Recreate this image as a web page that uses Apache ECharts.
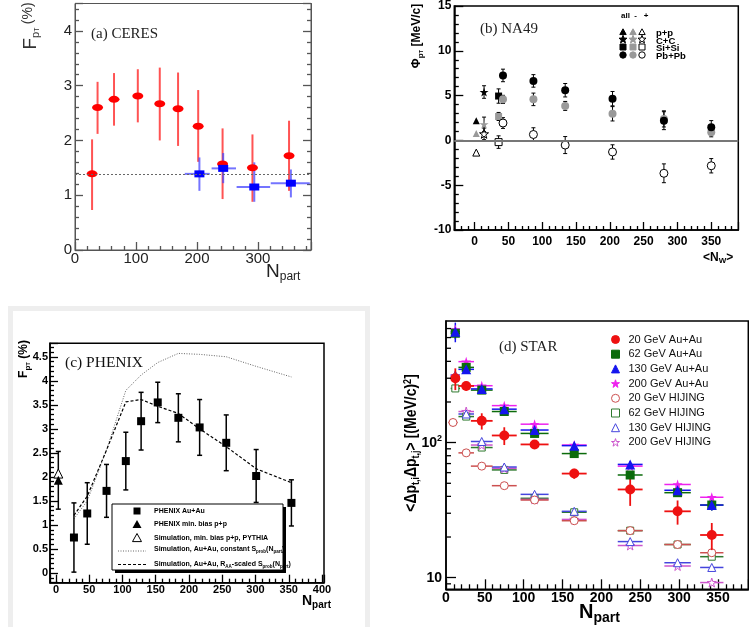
<!DOCTYPE html>
<html>
<head>
<meta charset="utf-8">
<script src="https://cdn.jsdelivr.net/npm/echarts@6.0.0/dist/echarts.min.js"></script>
<style>
html,body{margin:0;padding:0;background:#ffffff;}
#chart{width:749px;height:627px;}
</style>
</head>
<body>
<div id="chart"></div>
<script>
// ================= DATA =================
// (a) CERES
const ceresX    = [28, 37, 64, 103, 139, 169, 202, 242, 291, 351];
const ceresY    = [1.39, 2.60, 2.75, 2.81, 2.67, 2.58, 2.26, 1.57, 1.50, 1.72];
const ceresYHi  = [2.02, 3.07, 3.23, 3.30, 3.33, 3.24, 2.92, 2.22, 2.11, 2.36];
const ceresYLo  = [0.73, 2.12, 2.27, 2.33, 2.00, 1.90, 1.61, 0.93, 0.88, 1.08];
const ceresBlueX   = [204, 243, 294, 354];
const ceresBlueY   = [1.39, 1.49, 1.15, 1.22];
const ceresBlueXLo = [180, 224, 265, 321];
const ceresBlueXHi = [221, 264, 320, 385];
const ceresBlueYHi = [1.69, 1.77, 1.60, 1.47];
const ceresBlueYLo = [1.08, 1.22, 0.88, 0.96];
const ceresRefLevel = 1.39;

// (b) NA49 : light systems p+p, C+C, Si+Si ; Pb+Pb centrality bins
const na49Systems   = ['p+p', 'C+C', 'Si+Si', 'Pb+Pb'];
const na49LightX    = [2.5, 14, 35.5];
const na49LightAll  = [2.2, 5.4, 4.95];
const na49LightAllE = [0, 0.7, 0.8];
const na49LightNeg  = [0.77, 1.8, 2.67];
const na49LightNegE = [0, 0.8, 0.45];
const na49LightPos  = [-1.36, 0.73, -0.19];
const na49LightPosE = [0, 0.65, 0.7];
const na49PbX    = [42, 87, 134, 204, 280, 350];
const na49PbAll  = [7.25, 6.64, 5.6, 4.66, 2.2, 1.46];
const na49PbAllE = [0.7, 0.7, 0.75, 0.8, 1.0, 0.75];
const na49PbNeg  = [4.58, 4.58, 3.85, 2.97, 2.4, 0.9];
const na49PbNegE = [0.45, 0.7, 0.5, 0.8, 0.9, 0.5];
const na49PbPos  = [1.94, 0.66, -0.52, -1.29, -3.67, -2.83];
const na49PbPosE = [0.6, 0.75, 0.95, 0.8, 1.05, 0.8];
const na49ZeroLevel = 0;

// (c) PHENIX
const phenixX   = [27, 47, 76, 105, 128, 153, 184, 216, 256, 301, 354];
const phenixY   = [0.74, 1.24, 1.71, 2.33, 3.16, 3.55, 3.23, 3.03, 2.71, 2.02, 1.46];
const phenixErr = [0.72, 0.64, 0.55, 0.60, 0.60, 0.42, 0.50, 0.58, 0.58, 0.55, 0.48];
const phenixPPX = [3.5];
const phenixPP  = [1.93];
const phenixPPErr = [0.6];
const pythiaPP  = [2.07];
const simConstS = [1.13, 1.50, 2.56, 3.80, 4.12, 4.38, 4.57, 4.55, 4.50, 4.30, 4.08];
const simRaaS   = [1.20, 1.60, 2.56, 3.56, 3.61, 3.47, 3.32, 3.00, 2.63, 2.17, 1.88];
const phenixLegend = ['PHENIX Au+Au', 'PHENIX min. bias p+p', 'Simulation, min. bias p+p, PYTHIA'];

// (d) STAR
const starX     = [12, 26, 46, 75, 114, 165, 237, 298, 342];
const starXErr  = [6, 10, 14, 16, 18, 16, 16, 17, 15];
const au20      = [300, 263, 145, 113, 97, 59, 45, 31, 20.7];
const au20Err   = [55, 20, 20, 17, 5, 5, 11, 6.3, 4.7];
const au62      = [646, 361, 245, 170, 117, 83, 57.6, 42.6, 34.5];
const au62Err   = [60, 20, 12, 10, 6, 5, 4, 3, 3];
const au130     = [664, 349, 250, 177, 124, 95, 69, 44.4, 34.5];
const au130Err  = [110, 20, 12, 10, 6, 5, 4, 3, 3];
const au200     = [690, 398, 264, 188, 137, 96, 67, 49, 39.4];
const hijX20    = [9, 26, 46, 75, 114, 165, 237, 298, 342];
const hij20     = [141, 84, 67, 48, 37.6, 26.4, 22.3, 17.6, 15.3];
const hij62     = [252, 156, 92, 62.8, 38.7, 30.5, 22.3, 17.6, 14.3];
const hij130    = [317, 163, 102, 66, 41.4, 31, 18.5, 12.9, 11.9];
const hij200    = [310, 170, 96, 64.6, 38, 27, 17.3, 12.2, 9.2];
const starNames = ['20 GeV Au+Au', '62 GeV Au+Au', '130 GeV Au+Au', '200 GeV Au+Au',
                   '20 GeV HIJING', '62 GeV HIJING', '130 GeV HIJING', '200 GeV HIJING'];
const starMinorTicks = [9, 20, 30, 40, 50, 60, 70, 80, 90, 200, 300, 400, 500, 600, 700];

// ================= HELPERS =================
const SANS = '"Liberation Sans", Arial, Helvetica, sans-serif';
const SERIF = '"Liberation Serif", "Times New Roman", serif';
const STAR = 'path://M50,2 L61.2,36.3 L97.6,36.3 L68.2,57.5 L79.4,92 L50,70.8 L20.6,92 L31.8,57.5 L2.4,36.3 L38.8,36.3 Z';

function pts(xs, ys) { return xs.map((x, i) => [x, ys[i]]); }

function scatter(name, gi, data, symbol, size, fill, stroke, z) {
  return {
    name: name, type: 'scatter', xAxisIndex: gi, yAxisIndex: gi, data: data,
    symbol: symbol, symbolSize: size, silent: true, z: z || 4,
    itemStyle: { color: fill, borderColor: stroke || fill, borderWidth: stroke ? 1 : 0, opacity: 1 },
    emphasis: { disabled: true }
  };
}

// rows: [x, y, ylo, yhi, xlo, xhi]
function errBars(gi, rows, color, width, cap, z) {
  return {
    type: 'custom', xAxisIndex: gi, yAxisIndex: gi, data: rows, silent: true, z: z || 2,
    renderItem: function (params, api) {
      const x = api.value(0), y = api.value(1), lo = api.value(2), hi = api.value(3);
      const xl = api.value(4), xh = api.value(5);
      const ch = [];
      const st = { stroke: color, lineWidth: width };
      if (hi !== lo) {
        const a = api.coord([x, lo]), b = api.coord([x, hi]);
        ch.push({ type: 'line', shape: { x1: a[0], y1: a[1], x2: b[0], y2: b[1] }, style: st });
        if (cap) {
          ch.push({ type: 'line', shape: { x1: a[0] - cap, y1: a[1], x2: a[0] + cap, y2: a[1] }, style: st });
          ch.push({ type: 'line', shape: { x1: b[0] - cap, y1: b[1], x2: b[0] + cap, y2: b[1] }, style: st });
        }
      }
      if (xl !== xh) {
        const c = api.coord([xl, y]), d = api.coord([xh, y]);
        ch.push({ type: 'line', shape: { x1: c[0], y1: c[1], x2: d[0], y2: d[1] }, style: st });
      }
      return { type: 'group', children: ch };
    }
  };
}

function vRows(xs, ys, lo, hi) { return xs.map((x, i) => [x, ys[i], lo[i], hi[i], x, x]); }
function symRows(xs, ys, e) { return xs.map((x, i) => [x, ys[i], ys[i] - e[i], ys[i] + e[i], x, x]); }
function xyRows(xs, ys, e, xe) { return xs.map((x, i) => [x, ys[i], ys[i] - e[i], ys[i] + e[i], x - xe[i], x + xe[i]]); }
function hRows(xs, ys, xe) { return xs.map((x, i) => [x, ys[i], ys[i], ys[i], x - xe[i], x + xe[i]]); }

function valAxis(o) {
  const col = o.color || '#000';
  const tw = o.tickW || 1.3;
  const ax = {
    type: o.type || 'value', gridIndex: o.grid,
    min: o.min, max: o.max,
    axisLine: { show: true, onZero: false, lineStyle: { color: col, width: o.lw || 1 } },
    axisTick: { show: true, inside: true, length: o.tick || 8, lineStyle: { color: col, width: tw } },
    minorTick: { show: o.minor !== false, splitNumber: o.minorSplit || 5, length: (o.tick || 8) / 2, lineStyle: { color: col, width: tw } },
    splitLine: { show: false }, minorSplitLine: { show: false },
    axisLabel: Object.assign({
      show: o.labels !== false, color: o.labelColor || '#000', fontFamily: SANS,
      fontSize: o.fontSize || 12, fontWeight: o.bold ? 'bold' : 'normal', margin: o.margin || 4
    }, o.labelExtra || {})
  };
  if (o.position) ax.position = o.position;
  if (o.interval != null) ax.interval = o.interval;
  if (o.splitNumber != null) ax.splitNumber = o.splitNumber;
  if (o.type === 'log') ax.logBase = 10;
  if (o.showMin === false) ax.axisLabel.showMinLabel = false;
  if (o.showMax === false) ax.axisLabel.showMaxLabel = false;
  return ax;
}

function starPoly(cx, cy, r) {
  const p = [];
  for (let k = 0; k < 10; k++) {
    const a = -Math.PI / 2 + k * Math.PI / 5, rr = (k % 2) ? r * 0.42 : r;
    p.push([cx + rr * Math.cos(a), cy + rr * Math.sin(a)]);
  }
  return p;
}
function triPoly(cx, cy, r) { return [[cx, cy - r], [cx + r, cy + r * 0.8], [cx - r, cy + r * 0.8]]; }

// ================= OPTION =================
const grids = [
  { left: 75, top: 3.5, width: 236, height: 246.5, show: true, borderColor: '#555', borderWidth: 1 },
  { left: 454.3, top: 3, width: 284, height: 227, show: true, borderColor: '#000', borderWidth: 1.5 },
  { left: 50, top: 343.3, width: 274, height: 239.4, show: true, borderColor: '#000', borderWidth: 1.5 },
  { left: 446, top: 321, width: 302.3, height: 268.3, show: true, borderColor: '#000', borderWidth: 1.5 }
];

const xAxes = [
  valAxis({ grid: 0, min: 0, max: 387, interval: 100, color: '#555', labelColor: '#222', fontSize: 15, margin: 1, showMax: false }),
  valAxis({ grid: 1, min: -30, max: 390, splitNumber: 8, bold: true, fontSize: 12, margin: 6, lw: 1.5, showMin: false, showMax: false }),
  valAxis({ grid: 2, min: -9, max: 403, splitNumber: 8, bold: true, fontSize: 11, margin: 2, lw: 1.5, showMin: false, showMax: false }),
  valAxis({ grid: 3, min: 0, max: 389, interval: 50, bold: true, fontSize: 14, margin: 2, lw: 1.5, tick: 10, showMax: false })
];
const yAxes = [
  valAxis({ grid: 0, min: 0, max: 4.5, interval: 1, color: '#555', labelColor: '#222', fontSize: 15, margin: 3, showMax: false }),
  valAxis({ grid: 1, min: -10, max: 15, interval: 5, bold: true, fontSize: 12, margin: 3, lw: 1.5, tick: 9 }),
  valAxis({ grid: 2, min: -0.2, max: 4.78, splitNumber: 10, bold: true, fontSize: 11, margin: 2, lw: 1.5, showMin: false, showMax: false }),
  valAxis({ grid: 3, type: 'log', min: 8.2, max: 796, bold: true, fontSize: 14, margin: 4, lw: 1.5, tick: 10, minor: false,
    showMin: false, showMax: false,
    labelExtra: {
      formatter: function (v) {
        if (Math.abs(v - 10) < 0.01) return '10';
        if (Math.abs(v - 100) < 0.1) return '10{sup|2}';
        return '';
      },
      rich: { sup: { fontSize: 9, fontWeight: 'bold', fontFamily: SANS, verticalAlign: 'top', padding: [0, 0, 8, 0] } }
    } }),
  valAxis({ grid: 0, position: 'right', min: 0, max: 4.5, interval: 1, color: '#555', labels: false })
];

const series = [];

// ---- (a) ----
series.push({
  type: 'line', xAxisIndex: 0, yAxisIndex: 0, data: [], silent: true,
  markLine: { silent: true, symbol: 'none', label: { show: false },
    lineStyle: { color: '#666', type: [2, 2], width: 1.2 }, data: [{ yAxis: ceresRefLevel }] }
});
series.push(errBars(0, vRows(ceresX, ceresY, ceresYLo, ceresYHi), 'rgba(255,40,40,0.8)', 2, 0, 2));
series.push(errBars(0, ceresBlueX.map((x, i) => [x, ceresBlueY[i], ceresBlueYLo[i], ceresBlueYHi[i], ceresBlueXLo[i], ceresBlueXHi[i]]), 'rgba(70,70,255,0.75)', 2, 0, 2));
series.push(scatter('CERES data', 0, pts(ceresX, ceresY), 'circle', [11, 7], '#ff0000'));
series.push(scatter('CERES blue', 0, pts(ceresBlueX, ceresBlueY), 'rect', [10, 7], '#0000ff'));

// ---- (b) ----
series.push({
  type: 'line', xAxisIndex: 1, yAxisIndex: 1, data: [], silent: true,
  markLine: { silent: true, symbol: 'none', label: { show: false },
    lineStyle: { color: '#777', type: 'solid', width: 2 }, data: [{ yAxis: na49ZeroLevel }] }
});
const lightSym = ['triangle', STAR, 'rect'];
const lightSize = [7, 9, 7];
function lightData(ys) { return na49LightX.map((x, i) => ({ value: [x, ys[i]], symbol: lightSym[i], symbolSize: lightSize[i] })); }
series.push(errBars(1, symRows(na49LightX, na49LightAll, na49LightAllE), '#000', 1, 2));
series.push(errBars(1, symRows(na49LightX, na49LightNeg, na49LightNegE), '#000', 1, 2));
series.push(errBars(1, symRows(na49LightX, na49LightPos, na49LightPosE), '#000', 1, 2));
series.push(errBars(1, symRows(na49PbX, na49PbAll, na49PbAllE), '#000', 1, 2));
series.push(errBars(1, symRows(na49PbX, na49PbNeg, na49PbNegE), '#000', 1, 2));
series.push(errBars(1, symRows(na49PbX, na49PbPos, na49PbPosE), '#000', 1, 2));
series.push(scatter('NA49 light +', 1, lightData(na49LightPos), 'circle', 7, '#ffffff', '#000'));
series.push(scatter('NA49 light -', 1, lightData(na49LightNeg), 'circle', 7, '#999999'));
series.push(scatter('NA49 light all', 1, lightData(na49LightAll), 'circle', 7, '#000000'));
series.push(scatter('NA49 Pb +', 1, pts(na49PbX, na49PbPos), 'circle', 8, '#ffffff', '#000'));
series.push(scatter('NA49 Pb -', 1, pts(na49PbX, na49PbNeg), 'circle', 8, '#999999'));
series.push(scatter('NA49 Pb all', 1, pts(na49PbX, na49PbAll), 'circle', 8, '#000000'));

// ---- (c) ----
series.push({ type: 'line', xAxisIndex: 2, yAxisIndex: 2, data: pts(phenixX, simConstS), symbol: 'none', silent: true, z: 2,
  lineStyle: { color: '#666', width: 1, type: [1, 1.5] } });
series.push({ type: 'line', xAxisIndex: 2, yAxisIndex: 2, data: pts(phenixX, simRaaS), symbol: 'none', silent: true, z: 2,
  lineStyle: { color: '#000', width: 1.2, type: [3, 2] } });
series.push(errBars(2, symRows(phenixX, phenixY, phenixErr), '#000', 1.5, 2.5, 3));
series.push(errBars(2, symRows(phenixPPX, phenixPP, phenixPPErr), '#000', 1.5, 2.5, 3));
series.push(scatter('PHENIX Au+Au', 2, pts(phenixX, phenixY), 'rect', 8, '#000'));
series.push(scatter('PYTHIA', 2, pts(phenixPPX, pythiaPP), 'triangle', 9, '#ffffff', '#000'));
series.push(scatter('PHENIX p+p', 2, pts(phenixPPX, phenixPP), 'triangle', 9, '#000'));

// ---- (d) ----
const cRed = '#ee1111', cGreen = '#0b6b0b', cBlue = '#1515ee', cMag = '#ee22ee';
const hRed = '#cc5050', hGreen = '#2f7a2f', hBlue = '#4545dd', hMag = '#cc55cc';
// minor ticks of the log axis, placed through the axis scale
series.push({
  type: 'custom', xAxisIndex: 3, yAxisIndex: 3, data: starMinorTicks.map(v => [0, v]), silent: true, z: 6, clip: false,
  renderItem: function (params, api) {
    const p = api.coord([api.value(0), api.value(1)]);
    return { type: 'line', shape: { x1: p[0], y1: p[1], x2: p[0] + 5, y2: p[1] }, style: { stroke: '#000', lineWidth: 1.3 } };
  }
});
series.push(errBars(3, hRows(starX, hij62, starXErr), hGreen, 1.5, 0, 2));
series.push(errBars(3, hRows(starX, hij200, starXErr), hMag, 1.5, 0, 2));
series.push(errBars(3, hRows(starX, hij130, starXErr), hBlue, 1.5, 0, 2));
series.push(errBars(3, hRows(hijX20, hij20, starXErr), hRed, 1.5, 0, 2));
series.push(scatter(starNames[5], 3, pts(starX, hij62), 'rect', 7, '#ffffff', hGreen, 3));
series.push(scatter(starNames[7], 3, pts(starX, hij200), STAR, 9, '#ffffff', hMag, 3));
series.push(scatter(starNames[6], 3, pts(starX, hij130), 'triangle', 8, '#ffffff', hBlue, 3));
series.push(scatter(starNames[4], 3, pts(hijX20, hij20), 'circle', 8, '#ffffff', hRed, 3));
series.push(errBars(3, hRows(starX, au200, starXErr), cMag, 1.5, 0, 4));
series.push(errBars(3, xyRows(starX, au62, au62Err, starXErr), cGreen, 1.5, 0, 4));
series.push(errBars(3, xyRows(starX, au130, au130Err, starXErr), cBlue, 1.5, 0, 4));
series.push(errBars(3, xyRows(starX, au20, au20Err, starXErr), cRed, 1.8, 0, 4));
series.push(scatter(starNames[3], 3, pts(starX, au200), STAR, 10, cMag, null, 5));
series.push(scatter(starNames[1], 3, pts(starX, au62), 'rect', 9, cGreen, null, 5));
series.push(scatter(starNames[2], 3, pts(starX, au130), 'triangle', 10, cBlue, null, 5));
series.push(scatter(starNames[0], 3, pts(starX, au20), 'circle', 10, cRed, null, 5));

// ================= GRAPHICS =================
const g = [];
function txt(x, y, text, font, fill, extra) {
  g.push({ type: 'text', x: x, y: y, silent: true, z: 50,
    style: Object.assign({ text: text, font: font, fill: fill || '#000', align: 'left', verticalAlign: 'middle' }, extra || {}) });
  return g[g.length - 1];
}
txt(91, 34, '(a) CERES', '15px ' + SERIF, '#222');
txt(480, 29, '(b) NA49', '15px ' + SERIF, '#222');
txt(65, 363, '(c) PHENIX', '15.5px ' + SERIF, '#111');
txt(499, 347, '(d) STAR', '15px ' + SERIF, '#222');

g.push({ type: 'text', x: 31, y: 26, rotation: Math.PI / 2, silent: true,
  style: { text: '{f|F}{s|p}{t|T} {g|(%)}', align: 'center', verticalAlign: 'middle', fill: '#333',
    rich: { f: { fontSize: 19, fontFamily: SANS, fill: '#333' },
            s: { fontSize: 11, fontFamily: SANS, fill: '#333', verticalAlign: 'bottom', padding: [8, 0, 0, 0] },
            t: { fontSize: 7, fontFamily: SANS, fill: '#333', verticalAlign: 'bottom', padding: [12, 0, 0, 0] },
            g: { fontSize: 14, fontFamily: SANS, fill: '#333', padding: [0, 0, 6, 0] } } } });
g.push({ type: 'text', x: 266, y: 272, silent: true,
  style: { text: '{n|N}{s|part}', align: 'left', verticalAlign: 'middle',
    rich: { n: { fontSize: 19, fontFamily: SANS, fill: '#222' },
            s: { fontSize: 12, fontFamily: SANS, fill: '#222', verticalAlign: 'bottom', padding: [10, 0, 0, 0] } } } });
g.push({ type: 'text', x: 417, y: 36, rotation: Math.PI / 2, silent: true,
  style: { text: '{a|Φ}{s|p}{t|T}{a| [MeV/c]}', align: 'center', verticalAlign: 'middle',
    rich: { a: { fontSize: 12, fontWeight: 'bold', fontFamily: SANS, fill: '#000' },
            s: { fontSize: 8, fontWeight: 'bold', fontFamily: SANS, fill: '#000', verticalAlign: 'bottom', padding: [6, 0, 0, 0] },
            t: { fontSize: 6, fontWeight: 'bold', fontFamily: SANS, fill: '#000', verticalAlign: 'bottom', padding: [9, 0, 0, 0] } } } });
g.push({ type: 'text', x: 703, y: 258, silent: true,
  style: { text: '{a|<N}{s|W}{a|>}', align: 'left', verticalAlign: 'middle',
    rich: { a: { fontSize: 12, fontWeight: 'bold', fontFamily: SANS, fill: '#000' },
            s: { fontSize: 8, fontWeight: 'bold', fontFamily: SANS, fill: '#000', verticalAlign: 'bottom', padding: [6, 0, 0, 0] } } } });
g.push({ type: 'text', x: 24, y: 359, rotation: Math.PI / 2, silent: true,
  style: { text: '{a|F}{s|p}{t|T} {a|(%)}', align: 'center', verticalAlign: 'middle',
    rich: { a: { fontSize: 12, fontWeight: 'bold', fontFamily: SANS, fill: '#000' },
            s: { fontSize: 8, fontWeight: 'bold', fontFamily: SANS, fill: '#000', verticalAlign: 'bottom', padding: [6, 0, 0, 0] },
            t: { fontSize: 6, fontWeight: 'bold', fontFamily: SANS, fill: '#000', verticalAlign: 'bottom', padding: [9, 0, 0, 0] } } } });
g.push({ type: 'text', x: 302, y: 601, silent: true,
  style: { text: '{n|N}{s|part}', align: 'left', verticalAlign: 'middle',
    rich: { n: { fontSize: 14, fontWeight: 'bold', fontFamily: SANS, fill: '#000' },
            s: { fontSize: 10, fontWeight: 'bold', fontFamily: SANS, fill: '#000', verticalAlign: 'bottom', padding: [8, 0, 0, 0] } } } });
g.push({ type: 'text', x: 412, y: 443, rotation: Math.PI / 2, scaleY: 1.15, silent: true,
  style: { text: '{a|<Δp}{s|t,i}{a|Δp}{s|t,j}{a|> [(MeV/c)}{u|2}{a|]}', align: 'center', verticalAlign: 'middle',
    rich: { a: { fontSize: 14, fontWeight: 'bold', fontFamily: SANS, fill: '#000' },
            s: { fontSize: 9, fontWeight: 'bold', fontFamily: SANS, fill: '#000', verticalAlign: 'bottom', padding: [7, 0, 0, 0] },
            u: { fontSize: 9, fontWeight: 'bold', fontFamily: SANS, fill: '#000', verticalAlign: 'top', padding: [0, 0, 7, 0] } } } });
g.push({ type: 'text', x: 579, y: 612, silent: true,
  style: { text: '{n|N}{s|part}', align: 'left', verticalAlign: 'middle',
    rich: { n: { fontSize: 20, fontWeight: 'bold', fontFamily: SANS, fill: '#000' },
            s: { fontSize: 14, fontWeight: 'bold', fontFamily: SANS, fill: '#000', verticalAlign: 'bottom', padding: [12, 0, 0, 0] } } } });

g.push({ type: 'rect', silent: true, z: 0, shape: { x: 10.5, y: 308.5, width: 357, height: 330 },
  style: { fill: 'none', stroke: '#eeeeee', lineWidth: 5 } });

txt(621, 16, 'all  -   +', 'bold 8px ' + SANS, '#000');
const bRows = [32, 39.5, 47, 55];
const bCols = [623, 633, 642];
const bFill = ['#000', '#999', '#fff'];
const bStroke = ['#000', '#999', '#000'];
bRows.forEach((ry, r) => {
  bCols.forEach((cx, c) => {
    const st = { fill: bFill[c], stroke: bStroke[c], lineWidth: 1 };
    if (r === 0) g.push({ type: 'polygon', silent: true, z: 50, shape: { points: triPoly(cx, ry, 3.2) }, style: st });
    if (r === 1) g.push({ type: 'polygon', silent: true, z: 50, shape: { points: starPoly(cx, ry, 4.2) }, style: st });
    if (r === 2) g.push({ type: 'rect', silent: true, z: 50, shape: { x: cx - 3, y: ry - 3, width: 6, height: 6 }, style: st });
    if (r === 3) g.push({ type: 'circle', silent: true, z: 50, shape: { cx: cx, cy: ry, r: 3.2 }, style: st });
  });
  txt(656, ry + 1.5, na49Systems[r], 'bold 9.5px ' + SANS, '#000');
});

g.push({ type: 'rect', silent: true, z: 40, shape: { x: 115, y: 507, width: 171, height: 66 }, style: { fill: '#000' } });
g.push({ type: 'rect', silent: true, z: 41, shape: { x: 112, y: 504, width: 171, height: 66 }, style: { fill: '#fff', stroke: '#000', lineWidth: 1 } });
const cRows = [511, 524.5, 538, 551, 564.5];
g.push({ type: 'rect', silent: true, z: 42, shape: { x: 133.5, y: 507.5, width: 7, height: 7 }, style: { fill: '#000' } });
g.push({ type: 'polygon', silent: true, z: 42, shape: { points: triPoly(137, cRows[1], 4.5) }, style: { fill: '#000' } });
g.push({ type: 'polygon', silent: true, z: 42, shape: { points: triPoly(137, cRows[2], 4.5) }, style: { fill: '#fff', stroke: '#000', lineWidth: 1 } });
g.push({ type: 'line', silent: true, z: 42, shape: { x1: 118, y1: cRows[3], x2: 146, y2: cRows[3] }, style: { stroke: '#666', lineWidth: 1, lineDash: [1, 1.5] } });
g.push({ type: 'line', silent: true, z: 42, shape: { x1: 118, y1: cRows[4], x2: 146, y2: cRows[4] }, style: { stroke: '#000', lineWidth: 1.2, lineDash: [3, 2] } });
const legFont = { fontSize: 7, fontWeight: 'bold', fontFamily: SANS, fill: '#000' };
const legSub = { fontSize: 4.5, fontWeight: 'bold', fontFamily: SANS, fill: '#000', verticalAlign: 'bottom', padding: [4, 0, 0, 0] };
for (let i = 0; i < 3; i++) {
  g.push({ type: 'text', x: 154, y: cRows[i], z: 43, silent: true,
    style: { text: phenixLegend[i], fontSize: 7, fontWeight: 'bold', fontFamily: SANS, fill: '#000', verticalAlign: 'middle' } });
}
g.push({ type: 'text', x: 154, y: cRows[3] - 1.5, z: 43, silent: true,
  style: { text: '{a|Simulation, Au+Au, constant S}{s|prob}{a|(N}{s|part}{a|)}', verticalAlign: 'middle', rich: { a: legFont, s: legSub } } });
g.push({ type: 'text', x: 154, y: cRows[4], z: 43, silent: true,
  style: { text: '{a|Simulation, Au+Au, R}{s|AA}{a|-scaled S}{s|prob}{a|(N}{s|part}{a|)}', verticalAlign: 'middle', rich: { a: legFont, s: legSub } } });

const option = {
  animation: false,
  backgroundColor: '#ffffff',
  grid: grids,
  xAxis: xAxes,
  yAxis: yAxes,
  series: series,
  legend: [{
    show: true, orient: 'vertical', left: 606, top: 329, itemWidth: 8, itemHeight: 8, itemGap: 3.7,
    data: starNames.map(n => ({ name: n, itemStyle: { borderWidth: 1 } })), selectedMode: false,
    textStyle: { fontSize: 11, fontFamily: SANS, color: '#111', lineHeight: 8, padding: [0, 0, 0, 4] }
  }],
  graphic: g
};

const chart = echarts.init(document.getElementById('chart'), null, { renderer: 'canvas', width: 749, height: 627 });
chart.setOption(option);
</script>
</body>
</html>
